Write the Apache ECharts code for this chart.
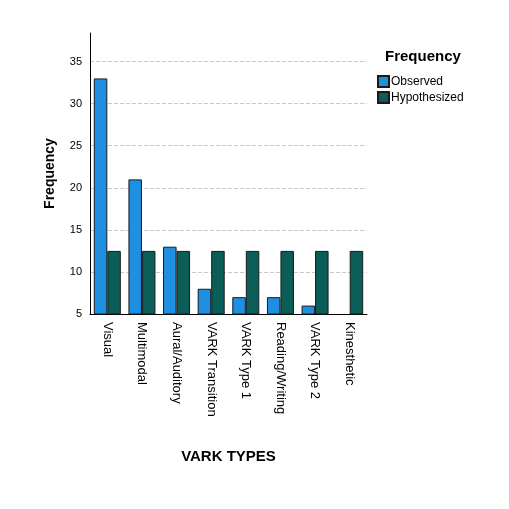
<!DOCTYPE html><html><head><meta charset="utf-8"><script src="https://cdn.jsdelivr.net/npm/echarts@6/dist/echarts.min.js"></script></head><body style="margin:0;background:#fff"><div id="c" style="width:509px;height:509px"></div><script>
const categories=["Visual","Multimodal","Aural/Auditory","VARK Transition","VARK Type 1","Reading/Writing","VARK Type 2","Kinesthetic"];
const observed=[33,21,13,8,7,7,6,null];
const hypothesized=[12.5,12.5,12.5,12.5,12.5,12.5,12.5,12.5];
const yTicks=[5,10,15,20,25,30,35];
const c=echarts.init(document.getElementById('c'));
c.setOption({animation:false,
grid:{left:90,right:142,top:33,bottom:195},
legend:{orient:'vertical',left:372,top:70,icon:'rect',itemWidth:11,itemHeight:11,itemGap:3,textStyle:{fontFamily:'Liberation Sans',fontSize:12,color:'#000',padding:[0,0,0,-3]},data:['Observed','Hypothesized']},
title:{text:'Frequency',left:380,top:44,textStyle:{fontFamily:'Liberation Sans',fontSize:15,fontWeight:'bold',color:'#000'}},
xAxis:{type:'category',data:categories,name:'VARK TYPES',nameLocation:'middle',nameGap:135,nameTextStyle:{fontFamily:'Liberation Sans',fontSize:15,fontWeight:'bold',color:'#000'},
axisLine:{lineStyle:{color:'#000'}},axisTick:{show:false},axisLabel:{rotate:-90,fontFamily:'Liberation Sans',fontSize:13,color:'#000',interval:0}},
yAxis:{type:'value',min:5,max:38.4,interval:5,name:'Frequency',nameLocation:'middle',nameGap:33,nameTextStyle:{fontFamily:'Liberation Sans',fontSize:14,fontWeight:'bold',color:'#000'},
axisLine:{show:true,lineStyle:{color:'#000'}},axisTick:{show:false},axisLabel:{fontFamily:'Liberation Sans',fontSize:11,color:'#000',formatter:v=>yTicks.includes(v)?v:''},
splitLine:{showMaxLine:false,showMinLine:false,lineStyle:{type:'dashed',color:'#c8c8c8'}}},
series:[
{name:'Observed',type:'bar',data:observed,barGap:'0%',barCategoryGap:'22%',itemStyle:{color:'#1e8fe1',borderColor:'#1a1a1a',borderWidth:1}},
{name:'Hypothesized',type:'bar',data:hypothesized,itemStyle:{color:'#0b5d58',borderColor:'#1a1a1a',borderWidth:1}}
]});
</script></body></html>
